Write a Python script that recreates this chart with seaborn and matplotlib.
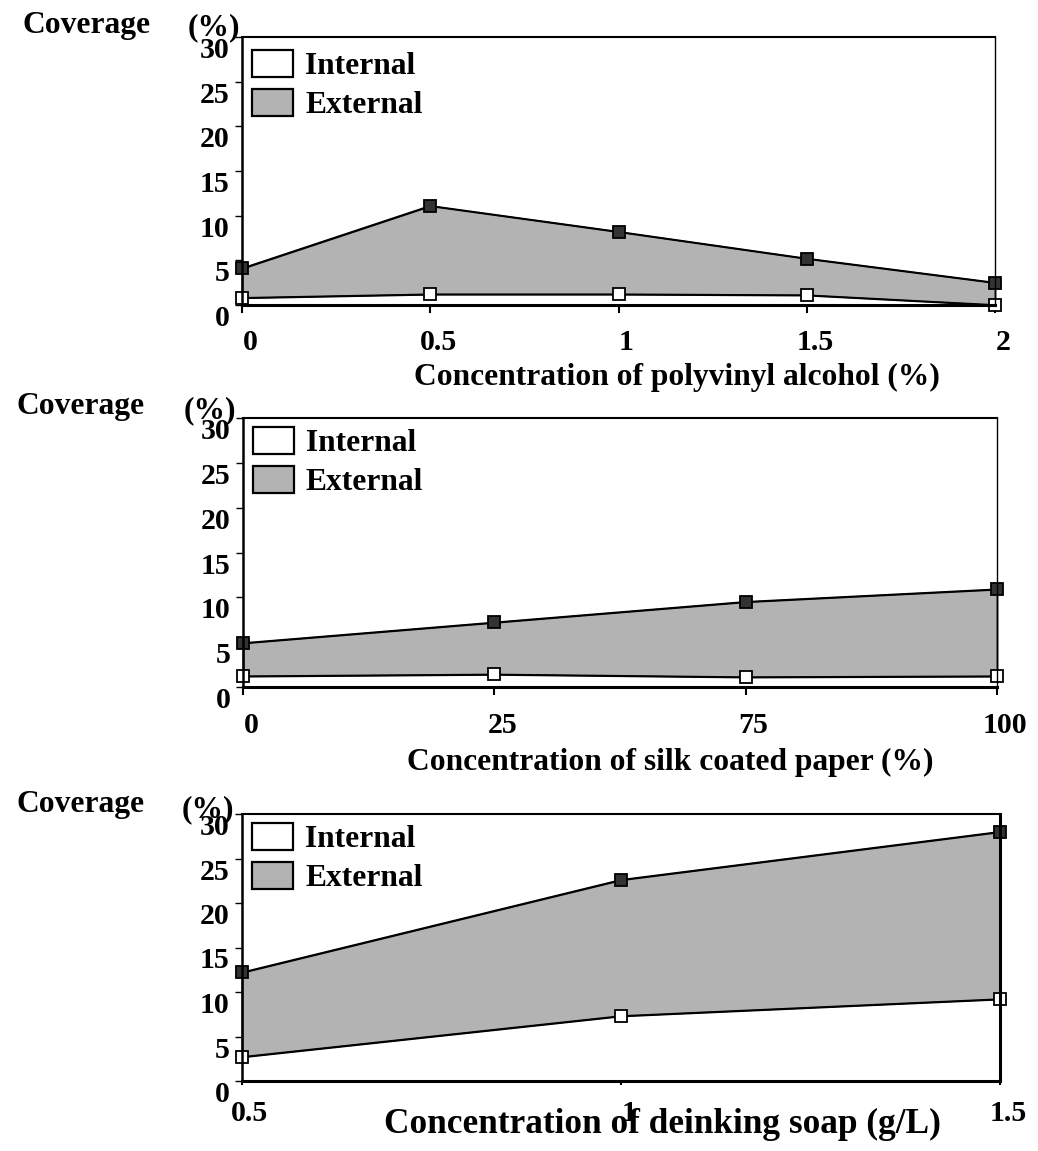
import numpy as np
import pandas as pd
import matplotlib
matplotlib.use("Agg")
import matplotlib.pyplot as plt
import seaborn as sns
from matplotlib.patches import Patch
from matplotlib.transforms import ScaledTranslation

# ---------------- data ----------------
pva_conc = [0, 0.5, 1, 1.5, 2]
pva_internal = [0.8, 1.2, 1.2, 1.1, 0.0]
pva_external = [4.1, 11.1, 8.2, 5.2, 2.5]

silk_labels = ["0", "25", "75", "100"]
silk_internal = [1.2, 1.4, 1.1, 1.2]
silk_external = [4.9, 7.2, 9.5, 10.9]

soap_conc = [0.5, 1, 1.5]
soap_internal = [2.7, 7.3, 9.2]
soap_external = [12.2, 22.6, 28.0]

pva_ticklabels = ["0", "0.5", "1", "1.5", "2"]
soap_ticklabels = ["0.5", "1", "1.5"]
y_ticks = [0, 5, 10, 15, 20, 25, 30]
series_names = ["Internal", "External"]
x_titles = ["Concentration of polyvinyl alcohol (%)",
            "Concentration of silk coated paper (%)",
            "Concentration of deinking soap (g/L)"]
y_title = "Coverage"
y_unit = "(%)"

# ---------------- style ----------------
sns.set_theme(style="white")
plt.rcParams["font.family"] = ["Liberation Serif", "DejaVu Serif"]
plt.rcParams["font.weight"] = "bold"
for k in ["text.color", "axes.labelcolor", "xtick.color", "ytick.color",
          "axes.edgecolor"]:
    plt.rcParams[k] = "black"

GRAY = "#b3b3b3"
DARK = "#333333"
W, H = 1038, 1151
fig = plt.figure(figsize=(W / 100, H / 100), dpi=100)
fig.patch.set_facecolor("white")


def px(x, y):
    return x / W, 1 - y / H


def add_ax(l, t, r, b):
    return fig.add_axes([l / W, 1 - b / H, (r - l) / W, (b - t) / H])


panels = [
    dict(rect=(242, 37, 995, 305), x=pva_conc, xt=pva_conc, xtl=pva_ticklabels,
         inn=pva_internal, ext=pva_external, xlim=(0, 2), xpad=11.5, xlen=6,
         title=x_titles[0], tx=677, ty=385, tfs=22.7, leg=13,
         cov=(22, 33), unit=(214, 35), thick_right=False),
    dict(rect=(243, 418, 997, 687), x=list(range(len(silk_labels))),
         xt=list(range(len(silk_labels))), xtl=silk_labels,
         inn=silk_internal, ext=silk_external, xlim=(0, len(silk_labels) - 1),
         xpad=12, xlen=6,
         title=x_titles[1], tx=670, ty=770, tfs=22.7, leg=9,
         cov=(16, 414), unit=(210, 418), thick_right=False),
    dict(rect=(242, 814, 1000, 1081), x=soap_conc, xt=soap_conc, xtl=soap_ticklabels,
         inn=soap_internal, ext=soap_external, xlim=(0.5, 1.5), xpad=11, xlen=3,
         title=x_titles[2], tx=662, ty=1133, tfs=25.4, leg=9,
         cov=(16, 812), unit=(208, 817), thick_right=True),
]

for p in panels:
    l, t, r, b = p["rect"]
    ax = add_ax(l, t, r, b)
    ax.set_facecolor("white")
    df = pd.DataFrame({"x": p["x"], "Internal": p["inn"], "External": p["ext"]})

    ax.fill_between(df["x"], df["Internal"], df["External"], facecolor=GRAY,
                    edgecolor="black", linewidth=1.2, zorder=2, clip_on=False)

    sns.lineplot(data=df, x="x", y="Internal", ax=ax, color="black", linewidth=1.2,
                 marker="s", markersize=8.5, markerfacecolor="white",
                 markeredgecolor="black", markeredgewidth=1.3, clip_on=False,
                 zorder=4, legend=False)
    sns.lineplot(data=df, x="x", y="External", ax=ax, color="black", linewidth=1.2,
                 marker="s", markersize=8.5, markerfacecolor=DARK,
                 markeredgecolor="black", markeredgewidth=1.3, clip_on=False,
                 zorder=4, legend=False)

    ax.set_xlim(*p["xlim"])
    ax.set_ylim(0, 30)
    ax.set_xlabel("")
    ax.set_ylabel("")
    ax.set_xticks(p["xt"])
    ax.set_xticklabels(p["xtl"])
    ax.set_yticks(y_ticks)
    ax.set_yticklabels([str(v) for v in y_ticks])

    ax.tick_params(axis="y", direction="out", length=5, width=1, pad=4,
                   labelsize=21.5, left=True, colors="black")
    ax.tick_params(axis="x", direction="out", length=p["xlen"], width=1.5,
                   pad=p["xpad"], labelsize=21.5, bottom=True, colors="black")
    off = ScaledTranslation(8 / 100, 0, fig.dpi_scale_trans)
    for tk in ax.xaxis.get_major_ticks():
        tk.label1.set_transform(tk.label1.get_transform() + off)
        tk.label1.set_fontweight("bold")
        tk.label1.set_color("black")
    for tk in ax.yaxis.get_major_ticks():
        tk.label1.set_verticalalignment("top")
        tk.label1.set_fontweight("bold")
        tk.label1.set_color("black")

    for side, sp in ax.spines.items():
        sp.set_visible(True)
        sp.set_color("black")
    ax.spines["left"].set_linewidth(1.8)
    ax.spines["bottom"].set_linewidth(2.2)
    ax.spines["top"].set_linewidth(1.5)
    ax.spines["right"].set_linewidth(2.2 if p["thick_right"] else 1.0)
    for sp in ax.spines.values():
        sp.set_zorder(5)

    handles = [Patch(facecolor="white", edgecolor="black", linewidth=1.6),
               Patch(facecolor=GRAY, edgecolor="black", linewidth=1.6)]
    fs = 22.7
    fpx = fs * 100 / 72
    leg = ax.legend(handles, series_names, loc="upper left",
                    bbox_to_anchor=(10 / (r - l), 1 - p["leg"] / (b - t)),
                    frameon=False, prop={"size": fs, "weight": "bold"},
                    handlelength=41 / fpx, handleheight=29 / fpx,
                    handletextpad=12 / fpx, labelspacing=8 / fpx,
                    borderpad=0, borderaxespad=0, labelcolor="black")

    fig.text(*px(p["tx"], p["ty"]), p["title"], ha="center", va="baseline",
             fontsize=p["tfs"], fontweight="bold", color="black")
    fig.text(*px(*p["cov"]), y_title, ha="left", va="baseline",
             fontsize=22.7, fontweight="bold", color="black")
    fig.text(*px(*p["unit"]), y_unit, ha="center", va="baseline",
             fontsize=22.7, fontweight="bold", color="black")

fig.savefig("out.png", dpi=100, facecolor="white")
